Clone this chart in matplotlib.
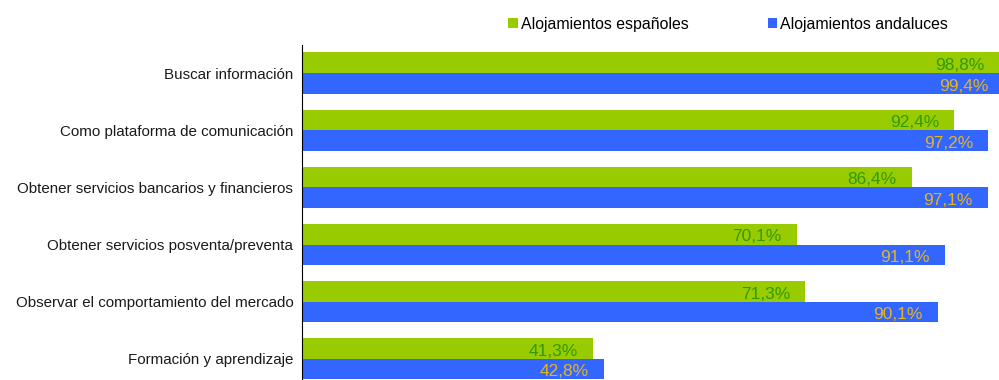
import numpy as np
import matplotlib.pyplot as plt

# Usos de internet por tipo de alojamiento (%)
categorias = [
    "Buscar información",
    "Como plataforma de comunicación",
    "Obtener servicios bancarios y financieros",
    "Obtener servicios posventa/preventa",
    "Observar el comportamiento del mercado",
    "Formación y aprendizaje",
]
espanoles = [98.8, 92.4, 86.4, 70.1, 71.3, 41.3]
andaluces = [99.4, 97.2, 97.1, 91.1, 90.1, 42.8]
series = ["Alojamientos españoles", "Alojamientos andaluces"]

plt.rcParams['font.family'] = ['Liberation Sans', 'DejaVu Sans']

verde = '#99CC00'
azul = '#3366FF'
texto_verde = '#339900'
texto_oro = '#E6B422'

fig = plt.figure(figsize=(9.99, 3.8), dpi=100)
ax = fig.add_axes([0.302, 0.0, 0.698, 0.8816])

y = np.arange(len(categorias))
h = 0.36
b1 = ax.barh(y - h / 2, espanoles, height=h, color=verde, label=series[0])
b2 = ax.barh(y + h / 2, andaluces, height=h, color=azul, label=series[1])

def fmt(v):
    return f"{v:.1f}%".replace('.', ',')

# etiquetas de valor dentro de la barra, junto al extremo
for i, v in enumerate(espanoles):
    ax.annotate(fmt(v), (v, i - h / 2), xytext=(-11, -2), textcoords='offset points',
                ha='right', va='center', color=texto_verde, fontsize=12.5,
                annotation_clip=False)
for i, v in enumerate(andaluces):
    ax.annotate(fmt(v), (v, i + h / 2), xytext=(-11, -2), textcoords='offset points',
                ha='right', va='center', color=texto_oro, fontsize=12.5,
                annotation_clip=False)

ax.set_xlim(0, 98.7)
ax.set_ylim(5.37, -0.49)
ax.set_yticks(y)
ax.set_yticklabels(categorias, fontsize=10.9, color='#1a1a1a')
ax.tick_params(axis='y', length=0, pad=6)
ax.set_xticks([])
for s in ['top', 'right', 'bottom']:
    ax.spines[s].set_visible(False)
ax.spines['left'].set_color('black')

fig.legend(handles=[b1, b2], labels=series, loc='center', ncol=2,
           bbox_to_anchor=(0.729, 0.936), frameon=False, fontsize=11.4,
           handlelength=0.6, handleheight=0.6, handletextpad=0.2, columnspacing=5.0)

fig.savefig('out.png', dpi=100)
